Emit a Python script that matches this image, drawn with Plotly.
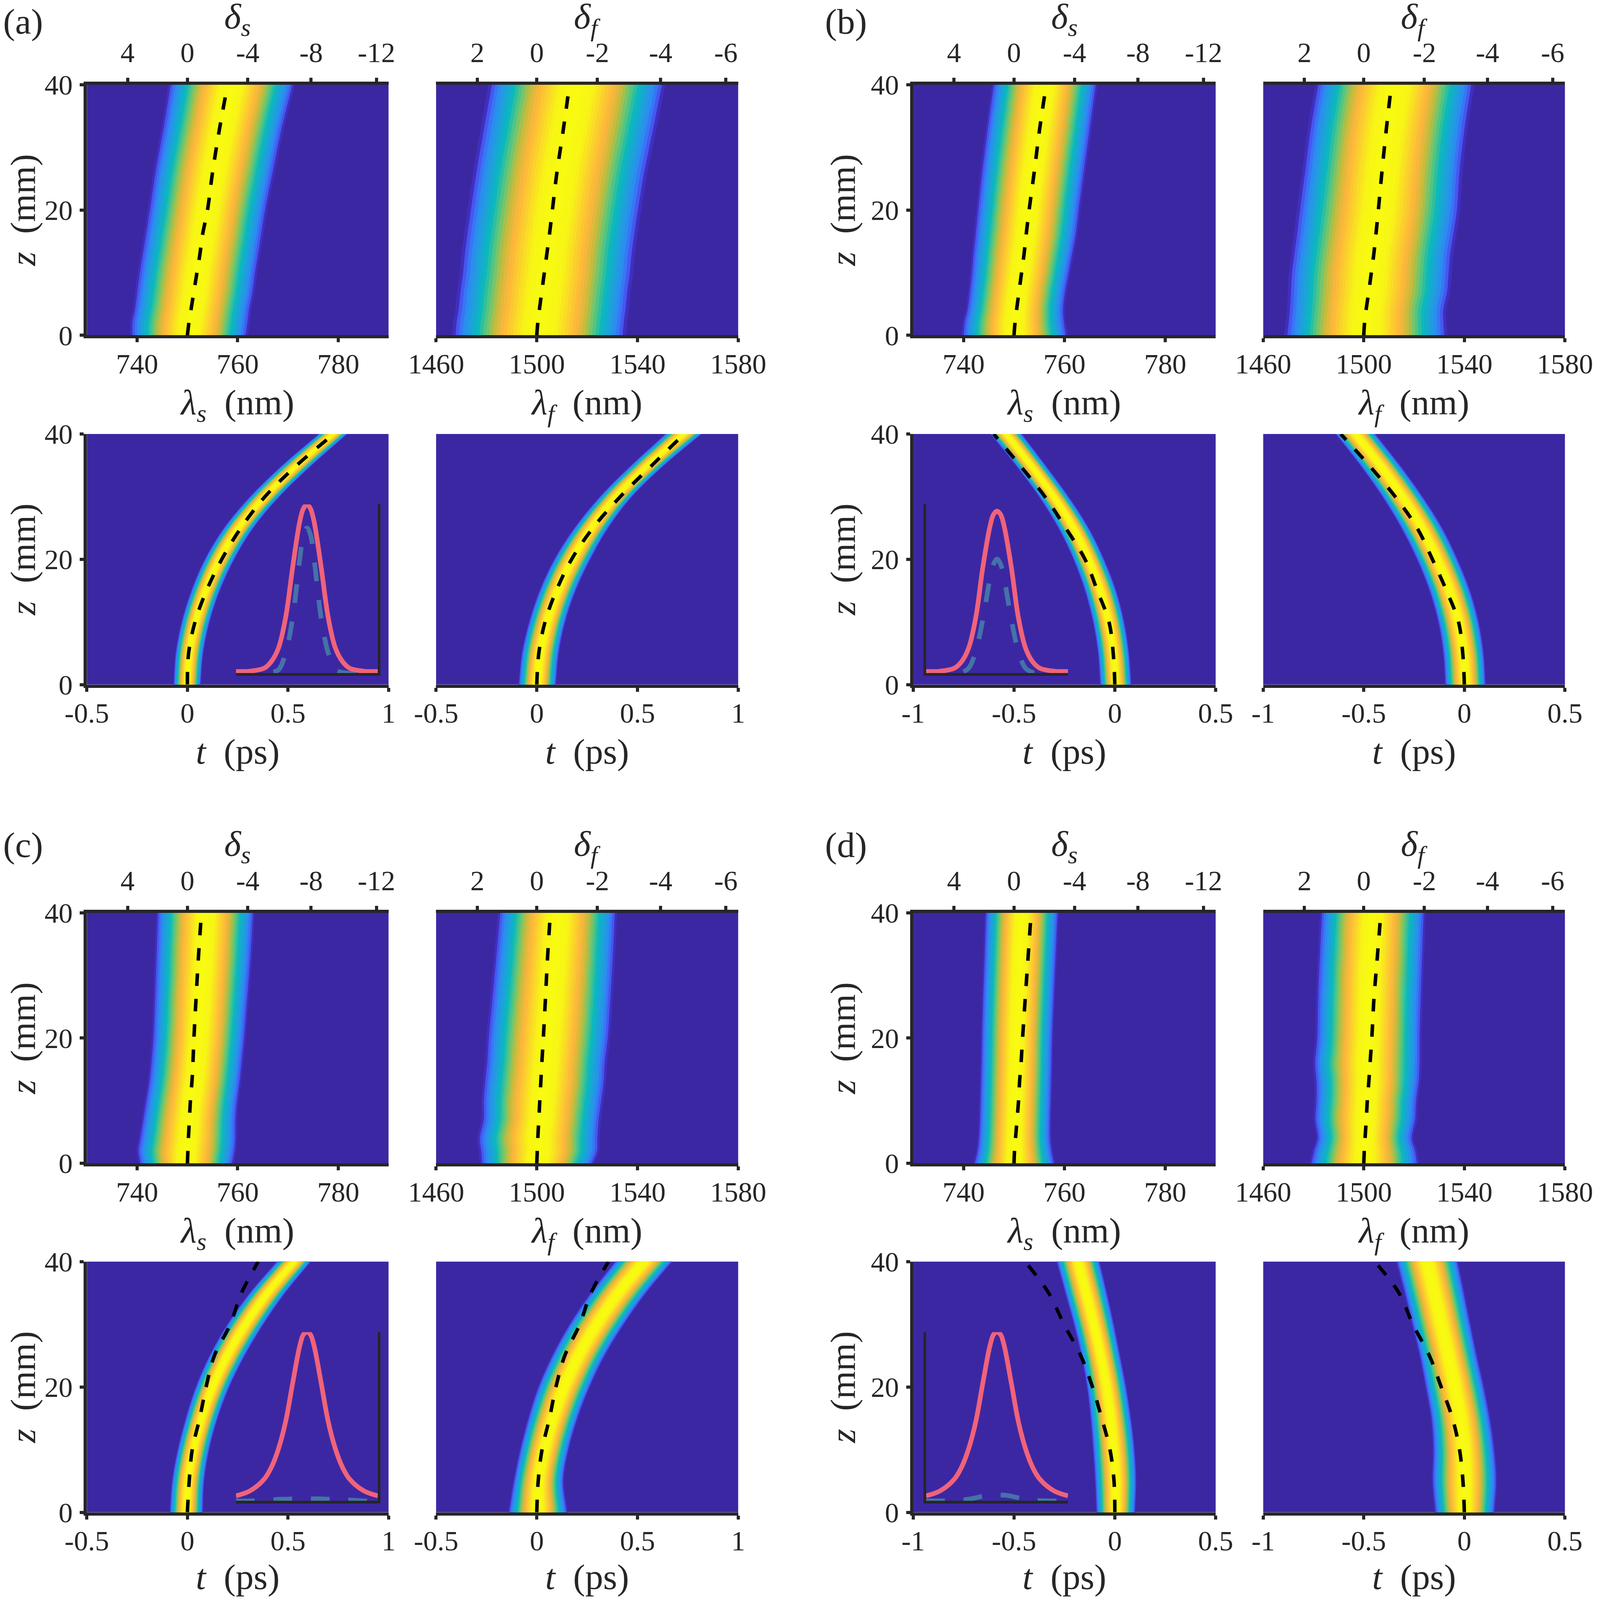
"""Four pump-probe style panels (a)-(d): spectra and pulse traces along z."""
import numpy as np
import plotly.graph_objects as go
from plotly.colors import sample_colorscale

# ---------------------------------------------------------------------------
# Data
# ---------------------------------------------------------------------------
Z_SPEC = [0, 2, 4, 7, 10, 13, 16, 20, 26, 33, 40]
Z_TIME = [0, 5, 10, 15, 20, 25, 30, 35, 40]

# spectra: band edges and dashed line, nm
A_S_LEFT = [738.6, 738.6, 739.1, 739.6, 740.1, 740.7, 741.3, 742.1, 743.2, 744.8, 746.2]
A_S_RIGHT = [762.0, 762.4, 762.7, 763.4, 763.9, 764.5, 765.1, 765.9, 767.4, 769.2, 771.4]
A_S_DASH = [750.0, 750.3, 750.7, 751.3, 751.9, 752.5, 753.0, 754.0, 755.0, 756.4, 758.0]
A_F_LEFT = [1466.4, 1466.8, 1467.6, 1468.4, 1469.4, 1470.1, 1471.1, 1472.5, 1474.7, 1477.7, 1480.8]
A_F_RIGHT = [1535.4, 1535.9, 1536.5, 1537.3, 1538.3, 1539.0, 1540.0, 1541.5, 1544.0, 1547.6, 1551.1]
A_F_DASH = [1500.0, 1500.4, 1501.0, 1502.0, 1503.0, 1504.0, 1505.0, 1506.2, 1508.0, 1510.6, 1513.0]

B_S_LEFT = [739.6, 739.8, 740.4, 740.9, 741.3, 741.6, 742.0, 742.5, 743.3, 744.4, 745.6]
B_S_RIGHT = [760.7, 760.3, 760.1, 760.5, 761.2, 761.9, 762.6, 763.2, 764.2, 765.4, 766.6]
B_S_DASH = [750.0, 750.2, 750.5, 751.0, 751.5, 752.0, 752.4, 753.0, 754.0, 755.1, 756.4]
B_F_LEFT = [1468.3, 1468.9, 1469.4, 1469.8, 1470.2, 1471.2, 1472.2, 1473.4, 1475.4, 1477.7, 1480.7]
B_F_RIGHT = [1533.2, 1532.9, 1532.8, 1534.4, 1535.0, 1535.6, 1536.8, 1538.3, 1539.3, 1541.3, 1544.0]
B_F_DASH = [1500.0, 1500.3, 1500.9, 1502.0, 1503.0, 1504.0, 1504.8, 1505.8, 1507.2, 1509.0, 1511.0]

C_S_LEFT = [740.3, 739.9, 740.3, 740.9, 741.5, 742.1, 742.5, 742.9, 743.2, 743.5, 743.8]
C_S_RIGHT = [759.2, 759.7, 759.9, 759.9, 760.2, 760.7, 761.1, 761.6, 762.2, 762.9, 763.4]
C_S_DASH = [750.0, 750.1, 750.2, 750.4, 750.6, 750.9, 751.1, 751.3, 751.7, 752.2, 752.8]
C_F_LEFT = [1477.4, 1477.0, 1476.4, 1478.0, 1478.0, 1478.6, 1479.4, 1480.0, 1481.4, 1483.0, 1484.6]
C_F_RIGHT = [1522.8, 1524.8, 1525.0, 1525.5, 1526.5, 1527.5, 1527.9, 1529.1, 1530.1, 1531.1, 1531.9]
C_F_DASH = [1500.0, 1500.2, 1500.4, 1500.8, 1501.2, 1501.6, 1502.0, 1502.6, 1503.4, 1504.3, 1505.4]

D_S_LEFT = [741.9, 742.5, 742.8, 743.0, 743.1, 743.2, 743.3, 743.4, 743.6, 743.9, 744.2]
D_S_RIGHT = [758.2, 757.7, 757.4, 757.4, 757.5, 757.6, 757.7, 757.8, 758.1, 758.5, 758.9]
D_S_DASH = [750.0, 750.1, 750.3, 750.6, 750.9, 751.1, 751.4, 751.7, 752.2, 752.8, 753.4]
D_F_LEFT = [1478.3, 1479.5, 1481.0, 1480.0, 1480.4, 1480.4, 1479.8, 1480.7, 1481.0, 1481.7, 1482.6]
D_F_RIGHT = [1522.0, 1521.2, 1519.8, 1521.2, 1521.6, 1522.6, 1523.0, 1523.0, 1523.4, 1524.0, 1524.6]
D_F_DASH = [1500.0, 1500.2, 1500.5, 1501.0, 1501.4, 1502.0, 1502.5, 1503.2, 1504.0, 1505.4, 1506.8]

# pulses: band edges and dashed line, ps
A_TS_LEFT = [-0.070, -0.060, -0.030, 0.018, 0.085, 0.180, 0.310, 0.470, 0.652]
A_TS_RIGHT = [0.067, 0.080, 0.112, 0.163, 0.235, 0.330, 0.460, 0.620, 0.797]
A_TS_DASH = [0.0, 0.006, 0.038, 0.095, 0.171, 0.266, 0.386, 0.544, 0.728]
A_TF_LEFT = [-0.092, -0.076, -0.040, 0.012, 0.085, 0.185, 0.312, 0.467, 0.637]
A_TF_RIGHT = [0.097, 0.111, 0.143, 0.195, 0.268, 0.357, 0.475, 0.635, 0.821]
A_TF_DASH = [0.0, 0.010, 0.041, 0.097, 0.173, 0.279, 0.415, 0.572, 0.732]

B_TS_LEFT = [-0.074, -0.085, -0.110, -0.150, -0.207, -0.282, -0.378, -0.493, -0.618]
B_TS_RIGHT = [0.083, 0.072, 0.048, 0.008, -0.052, -0.128, -0.228, -0.342, -0.460]
B_TS_DASH = [0.0, -0.008, -0.029, -0.087, -0.148, -0.244, -0.347, -0.471, -0.601]
B_TF_LEFT = [-0.097, -0.107, -0.132, -0.176, -0.238, -0.316, -0.410, -0.520, -0.642]
B_TF_RIGHT = [0.108, 0.098, 0.073, 0.030, -0.032, -0.108, -0.206, -0.318, -0.441]
B_TF_DASH = [0.0, -0.008, -0.029, -0.089, -0.159, -0.235, -0.344, -0.474, -0.615]

C_TS_LEFT = [-0.089, -0.078, -0.050, -0.010, 0.040, 0.108, 0.197, 0.308, 0.443]
C_TS_RIGHT = [0.078, 0.085, 0.110, 0.152, 0.210, 0.287, 0.380, 0.488, 0.616]
C_TS_DASH = [0.0, 0.009, 0.024, 0.061, 0.093, 0.134, 0.213, 0.269, 0.352]
C_TF_LEFT = [-0.143, -0.117, -0.085, -0.045, 0.005, 0.074, 0.160, 0.265, 0.386]
C_TF_RIGHT = [0.154, 0.135, 0.160, 0.205, 0.265, 0.340, 0.435, 0.545, 0.675]
C_TF_DASH = [0.0, 0.007, 0.026, 0.063, 0.095, 0.139, 0.213, 0.269, 0.356]

D_TS_LEFT = [-0.093, -0.100, -0.110, -0.122, -0.140, -0.168, -0.205, -0.248, -0.290]
D_TS_RIGHT = [0.102, 0.108, 0.100, 0.082, 0.058, 0.028, -0.003, -0.037, -0.074]
D_TS_DASH = [0.0, -0.004, -0.024, -0.065, -0.111, -0.169, -0.252, -0.328, -0.445]
D_TF_LEFT = [-0.148, -0.162, -0.158, -0.168, -0.195, -0.225, -0.262, -0.300, -0.340]
D_TF_RIGHT = [0.152, 0.163, 0.152, 0.130, 0.100, 0.065, 0.033, 0.002, -0.030]
D_TF_DASH = [0.0, -0.007, -0.024, -0.059, -0.115, -0.174, -0.256, -0.325, -0.445]

# inset pulses
INSET_U = [-1, -0.8, -0.6, -0.5, -0.4, -0.3, -0.2, -0.1, -0.05, 0, 0.05, 0.1, 0.2, 0.3, 0.4, 0.5, 0.6, 0.8, 1]
A_RED = [0.01, 0.012, 0.03, 0.07, 0.15, 0.33, 0.63, 0.90, 0.975, 1.0, 0.975, 0.90, 0.63, 0.33, 0.15, 0.07, 0.03, 0.012, 0.01]
A_TEAL = [0, 0, 0, 0.005, 0.02, 0.12, 0.33, 0.68, 0.82, 0.86, 0.82, 0.68, 0.33, 0.12, 0.02, 0.005, 0, 0, 0]
B_RED = [0.01, 0.012, 0.03, 0.068, 0.15, 0.33, 0.63, 0.87, 0.94, 0.96, 0.94, 0.87, 0.63, 0.33, 0.15, 0.068, 0.03, 0.012, 0.01]
B_TEAL = [0, 0, 0, 0.005, 0.03, 0.13, 0.32, 0.56, 0.645, 0.676, 0.645, 0.56, 0.32, 0.13, 0.03, 0.005, 0, 0, 0]
C_RED = [0.03, 0.06, 0.13, 0.20, 0.31, 0.47, 0.70, 0.92, 0.985, 1.0, 0.985, 0.92, 0.70, 0.47, 0.31, 0.20, 0.13, 0.06, 0.03]
C_TEAL = [0, 0, 0.005, 0.005, 0.01, 0.01, 0.012, 0.012, 0.012, 0.012, 0.012, 0.012, 0.012, 0.01, 0.01, 0.005, 0.005, 0, 0]
D_RED = [0.03, 0.06, 0.13, 0.20, 0.31, 0.47, 0.70, 0.92, 0.985, 1.0, 0.985, 0.92, 0.70, 0.47, 0.31, 0.20, 0.13, 0.06, 0.03]
D_TEAL = [0, 0, 0.002, 0.005, 0.01, 0.018, 0.028, 0.034, 0.035, 0.036, 0.035, 0.034, 0.028, 0.018, 0.01, 0.005, 0.002, 0, 0]

# ticks
Z_TICKS = [0, 20, 40]
LS_TICKS = [740, 760, 780]
LF_TICKS = [1460, 1500, 1540, 1580]
DS_TICKS = [738.1, 750, 762, 774.6, 787.6]
DS_LABELS = ["4", "0", "-4", "-8", "-12"]
DF_TICKS = [1476.4, 1500, 1524.1, 1549.2, 1575.1]
DF_LABELS = ["2", "0", "-2", "-4", "-6"]
T_POS_TICKS = [-0.5, 0, 0.5, 1]
T_POS_LABELS = ["-0.5", "0", "0.5", "1"]
T_NEG_TICKS = [-1, -0.5, 0, 0.5]
T_NEG_LABELS = ["-1", "-0.5", "0", "0.5"]

# ---------------------------------------------------------------------------
# Style
# ---------------------------------------------------------------------------
W, H = 4189, 4184  # drawing area the page gives the autosized figure
PAGE_PAD = 8       # default body margin
FONT = "Liberation Serif"
INK = "#262626"
BG = "#3C27A3"
RED = "#F0637A"
TEAL = "#4572A8"
TICK_SIZE = 72
TITLE_SIZE = 92

BAND_SCALE = [
    [0.0, "#F8FC10"], [0.20, "#F8F515"], [0.32, "#FBD52B"], [0.44, "#FDB53C"],
    [0.54, "#C4BC3C"], [0.63, "#60C878"], [0.73, "#08B8BE"], [0.82, "#1FA0DC"],
    [0.90, "#2F88F5"], [0.97, "#4A50F0"], [1.0, "#3F2FBF"],
]
LAYERS = np.linspace(1.0, 0.02, 26)

COL_X = [(228, 1021), (1146, 1940), (2400, 3195), (3320, 4113)]
ROW_Y = [(222, 880), (1139, 1797), (2396, 3054), (3312, 3970)]
TAG_X = {0: 60, 2: 2223}
TAG_Y = {0: 56, 2: 2218}
DELTA_Y = {0: 50, 2: 2222}


def page_x(px):
    return (px - PAGE_PAD) / W


def page_y(px):
    return 1 - (px - PAGE_PAD) / H


def dom_x(a, b):
    return [page_x(a), page_x(b)]


def dom_y(a, b):
    return [page_y(b), page_y(a)]


def xref(n):
    return "x" if n == 1 else f"x{n}"


def yref(n):
    return "y" if n == 1 else f"y{n}"


def ax_name(kind, n):
    return f"{kind}axis" if n == 1 else f"{kind}axis{n}"


fig = go.Figure()
layout = {}
next_id = 1


def tick_font():
    return dict(family=FONT, size=TICK_SIZE, color=INK)


def title_font():
    return dict(family=FONT, size=TITLE_SIZE, color=INK)


def add_band(n, zs, left, right, dash):
    """Nested filled layers between the band edges, then the dashed guide."""
    zs = np.array(zs, float)
    left = np.array(left, float)
    right = np.array(right, float)
    mid = (left + right) / 2
    # carry the ends past the axis range so the spline closes outside the clip
    z_ext = np.r_[2 * zs[0] - zs[1], zs, 2 * zs[-1] - zs[-2]]
    for f in LAYERS:
        color = sample_colorscale(BAND_SCALE, [float(f)])[0]
        xl = mid - (mid - left) * f
        xr = mid + (right - mid) * f
        xl = np.r_[2 * xl[0] - xl[1], xl, 2 * xl[-1] - xl[-2]]
        xr = np.r_[2 * xr[0] - xr[1], xr, 2 * xr[-1] - xr[-2]]
        fig.add_trace(go.Scatter(
            x=np.r_[xl, xr[::-1]], y=np.r_[z_ext, z_ext[::-1]],
            mode="lines", fill="toself", fillcolor=color,
            line=dict(width=0, shape="spline", smoothing=1.0, simplify=False),
            hoverinfo="skip", showlegend=False,
            xaxis=xref(n), yaxis=yref(n),
        ))
    fig.add_trace(go.Scatter(
        x=dash, y=zs, mode="lines",
        line=dict(color="black", width=9, dash="32px,33px", shape="spline"),
        hoverinfo="skip", showlegend=False, xaxis=xref(n), yaxis=yref(n),
    ))


def add_panel(col, row, xrange, xticks, xlabels, xtitle, zs, left, right, dash, ztitle=False):
    global next_id
    n = next_id
    next_id += 1
    xd = dom_x(*COL_X[col])
    yd = dom_y(*ROW_Y[row])
    add_band(n, zs, left, right, dash)
    layout[ax_name("x", n)] = dict(
        domain=xd, range=xrange, anchor=yref(n), side="bottom", automargin=False,
        tickmode="array", tickvals=xticks, ticktext=xlabels,
        ticks="outside", ticklen=10, tickwidth=8, tickcolor=INK,
        tickfont=tick_font(), ticklabelstandoff=-7,
        showline=True, linewidth=8, linecolor=INK,
        showgrid=False, zeroline=False,
        title=dict(text=xtitle, font=title_font(), standoff=29),
    )
    layout[ax_name("y", n)] = dict(
        domain=yd, range=[0, 40], anchor=xref(n), side="left", automargin=False,
        showgrid=False, zeroline=False,
    )
    if ztitle:
        layout[ax_name("y", n)].update(
            tickmode="array", tickvals=Z_TICKS, ticktext=[str(v) for v in Z_TICKS],
            ticks="outside", ticklen=10, tickwidth=8, tickcolor=INK,
            tickfont=tick_font(), ticklabelstandoff=4,
            showline=True, linewidth=8, linecolor=INK,
            title=dict(text="<i>z</i>\u2002(mm)", font=title_font(), standoff=12),
        )
    else:
        layout[ax_name("y", n)].update(showticklabels=False, ticks="", showline=False)
    fig.add_shape(type="rect", xref=f"{xref(n)} domain", yref=f"{yref(n)} domain",
                  x0=0, x1=1, y0=0, y1=1, fillcolor=BG, line_width=0, layer="below")
    return n


# panels: (tag, col offset, row offset, spectra and pulse data, time range, inset data)
PANELS = [
    ("(a)", 0, 0, (A_S_LEFT, A_S_RIGHT, A_S_DASH), (A_F_LEFT, A_F_RIGHT, A_F_DASH),
     (A_TS_LEFT, A_TS_RIGHT, A_TS_DASH), (A_TF_LEFT, A_TF_RIGHT, A_TF_DASH),
     [-0.5, 1], T_POS_TICKS, T_POS_LABELS, A_RED, A_TEAL),
    ("(b)", 2, 0, (B_S_LEFT, B_S_RIGHT, B_S_DASH), (B_F_LEFT, B_F_RIGHT, B_F_DASH),
     (B_TS_LEFT, B_TS_RIGHT, B_TS_DASH), (B_TF_LEFT, B_TF_RIGHT, B_TF_DASH),
     [-1, 0.5], T_NEG_TICKS, T_NEG_LABELS, B_RED, B_TEAL),
    ("(c)", 0, 2, (C_S_LEFT, C_S_RIGHT, C_S_DASH), (C_F_LEFT, C_F_RIGHT, C_F_DASH),
     (C_TS_LEFT, C_TS_RIGHT, C_TS_DASH), (C_TF_LEFT, C_TF_RIGHT, C_TF_DASH),
     [-0.5, 1], T_POS_TICKS, T_POS_LABELS, C_RED, C_TEAL),
    ("(d)", 2, 2, (D_S_LEFT, D_S_RIGHT, D_S_DASH), (D_F_LEFT, D_F_RIGHT, D_F_DASH),
     (D_TS_LEFT, D_TS_RIGHT, D_TS_DASH), (D_TF_LEFT, D_TF_RIGHT, D_TF_DASH),
     [-1, 0.5], T_NEG_TICKS, T_NEG_LABELS, D_RED, D_TEAL),
]

LS_TITLE = "<i>λ</i><sub><i>s</i></sub>\u2002(nm)"
LF_TITLE = "<i>λ</i><sub><i>f</i></sub>\u2002(nm)"
T_TITLE = "<i>t</i>\u2002(ps)"
DS_TITLE = "<i>δ</i><sub><i>s</i></sub>"
DF_TITLE = "<i>δ</i><sub><i>f</i></sub>"

annotations = []
top_jobs = []
inset_jobs = []

for tag, c0, r0, spec_s, spec_f, time_s, time_f, trange, tticks, tlabels, red, teal in PANELS:
    n1 = add_panel(c0, r0, [730, 790], LS_TICKS, [str(v) for v in LS_TICKS], LS_TITLE,
                   Z_SPEC, *spec_s, ztitle=True)
    n2 = add_panel(c0 + 1, r0, [1460, 1580], LF_TICKS, [str(v) for v in LF_TICKS], LF_TITLE,
                   Z_SPEC, *spec_f)
    add_panel(c0, r0 + 1, trange, tticks, tlabels, T_TITLE, Z_TIME, *time_s, ztitle=True)
    add_panel(c0 + 1, r0 + 1, trange, tticks, tlabels, T_TITLE, Z_TIME, *time_f)
    top_jobs.append((n1, [730, 790], DS_TICKS, DS_LABELS))
    top_jobs.append((n2, [1460, 1580], DF_TICKS, DF_LABELS))
    inset_jobs.append((c0, r0 + 1, red, teal))
    annotations.append(dict(
        text=tag, x=page_x(TAG_X[c0]), y=page_y(TAG_Y[r0]),
        xref="paper", yref="paper", xanchor="center", yanchor="middle",
        showarrow=False, font=title_font(),
    ))
    # delta titles as annotations: an axis title at the page top gets pushed down
    for col, title in ((c0, DS_TITLE), (c0 + 1, DF_TITLE)):
        annotations.append(dict(
            text=title, x=page_x(sum(COL_X[col]) / 2), y=page_y(DELTA_Y[r0]),
            xref="paper", yref="paper", xanchor="center", yanchor="middle",
            showarrow=False, font=title_font(),
        ))

# top delta axes: overlay on the spectra panels
for n, xrange, ticks, labels in top_jobs:
    top = next_id
    next_id += 1
    fig.add_trace(go.Scatter(
        x=ticks, y=[0] * len(ticks), mode="lines", line=dict(width=0),
        hoverinfo="skip", showlegend=False, xaxis=xref(top), yaxis=yref(n),
    ))
    layout[ax_name("x", top)] = dict(
        overlaying=xref(n), anchor=yref(n), side="top", range=xrange, automargin=False,
        tickmode="array", tickvals=ticks, ticktext=labels,
        ticks="outside", ticklen=10, tickwidth=8, tickcolor=INK,
        tickfont=tick_font(), ticklabelstandoff=11,
        showline=True, linewidth=8, linecolor=INK,
        showgrid=False, zeroline=False,
    )

# insets: one small axes per time panel on the left of each group
for c0, r0, red, teal in inset_jobs:
    n = next_id
    next_id += 1
    right_side = c0 == 0
    left_px = COL_X[c0][0] + (392 if right_side else 34)
    bottom_px = ROW_Y[r0][1] - 30
    for vals, color, width, dash in ((teal, TEAL, 12, "48px,48px"), (red, RED, 12, "solid")):
        fig.add_trace(go.Scatter(
            x=INSET_U, y=vals, mode="lines", cliponaxis=False,
            line=dict(color=color, width=width, dash=dash, shape="spline"),
            hoverinfo="skip", showlegend=False, xaxis=xref(n), yaxis=yref(n),
        ))
    layout[ax_name("x", n)] = dict(
        domain=dom_x(left_px, left_px + 373), range=[-1, 1], anchor=yref(n), automargin=False,
        showticklabels=False, ticks="", showgrid=False, zeroline=False,
        showline=True, linewidth=7, linecolor=INK,
    )
    layout[ax_name("y", n)] = dict(
        domain=dom_y(bottom_px - 443, bottom_px), range=[0, 1], anchor=xref(n), automargin=False,
        side="right" if right_side else "left",
        showticklabels=False, ticks="", showgrid=False, zeroline=False,
        showline=True, linewidth=7, linecolor=INK,
    )

fig.update_layout(
    margin=dict(l=0, r=0, t=0, b=0, autoexpand=False),
    paper_bgcolor="white", plot_bgcolor="rgba(0,0,0,0)",
    showlegend=False, annotations=annotations,
    **layout,
)

fig.write_html("out.html", config={"displayModeBar": False})
